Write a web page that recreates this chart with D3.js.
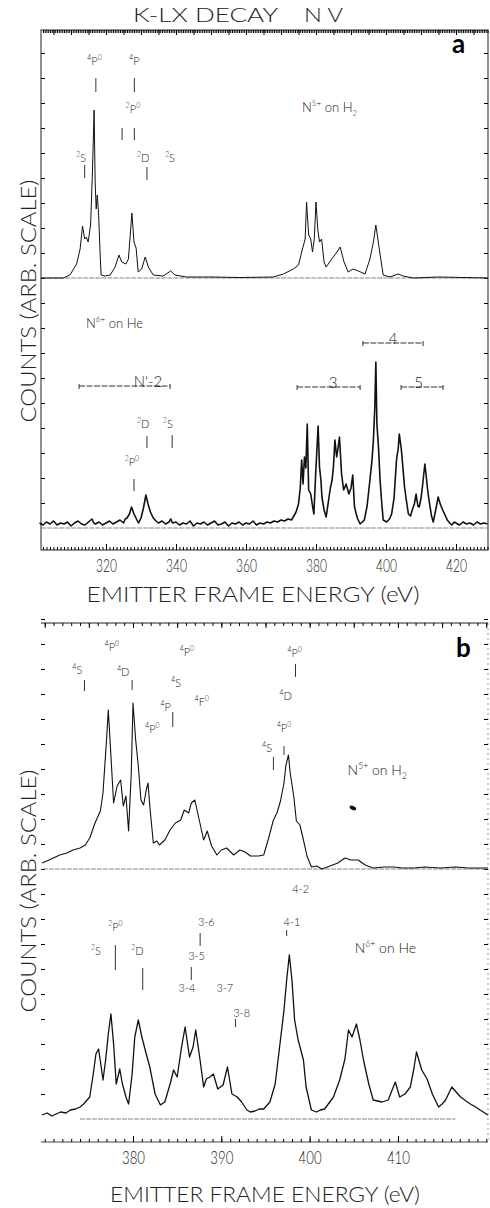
<!DOCTYPE html>
<html lang="en">
<head>
<meta charset="UTF-8">
<title>K-LX Decay N V</title>
<script src="https://d3js.org/d3.v7.min.js"></script>
<style>
  body { margin: 0; background: #fff; }
  svg { display: block; }
  text { font-family: "Lato", "DejaVu Sans", sans-serif; font-weight: 300; fill: #222; }
</style>
</head>
<body>
<script>
// ---- data (energy eV, counts arb.) ----
// panel a, upper trace: N5+ on H2
const aH2 = [[301.4,0],[305,0],[307.8,0],[309.7,3],[311.6,14],[312.6,29],[313.3,52],[313.9,39],[314.4,41],[314.9,36],
  [315.6,53],[316.1,103],[316.6,168],[316.9,96],[317.2,69],[317.5,83],[317.9,63],[318.3,26],[318.6,3],[319.7,2],
  [321.2,3],[322.6,11],[323.7,23],[324.5,16],[325.7,14],[326.4,19],[327.4,65],[328.0,36],[328.6,30],[329.2,6],
  [330.2,9],[331.2,21],[332.1,11],[333.5,3],[336.3,2],[338.5,7],[339.7,3],[343,1],[350,1],[358.3,0.5],
  [367.8,1],[370.7,4],[373.5,9],[375,13],[375.9,26],[376.9,39],[377.3,76],[377.9,43],[378.5,39],[379.0,26],
  [379.5,39],[380.0,76],[380.5,49],[381.0,36],[381.6,39],[382.3,16],[382.9,11],[384.5,19],[386.0,26],[386.9,31],
  [388.0,16],[389.2,6],[390.6,9],[392.1,7],[394.0,4],[395.4,19],[396.4,36],[397.1,53],[397.8,36],[398.5,19],
  [399.2,3],[401.1,1],[403.5,4],[404.9,2],[407.8,0],[415,1],[429.1,0]];

// panel a, lower trace: N6+ on He
const aHe = [[301,5],[302,3],[303,6],[304,4],[305,7],[306,3],[307,5],[308,4],[309,6],[310,2],[311,5],[312,7],
  [313,4],[314,3],[315,6],[316,9],[316.5,5],[317,4],[318,6],[319,3],[320,5],[321,7],[322,4],[323,6],[324,8],
  [325,5],[325.5,9],[326,10],[326.7,14],[327.3,21],[328,14],[328.7,9],[329.3,5],[330,10],[330.7,20],[331.4,33],
  [332,24],[332.7,16],[333.5,10],[334.3,7],[335,5],[336,7],[337,4],[338,6],[338.5,9],[339,5],[340,6],[341,3],
  [342,5],[343,4],[344,7],[345,2],[346,5],[347,4],[348,6],[349,3],[350,5],[351,7],[352,3],[353,4],[354,6],
  [355,2],[356,5],[357,4],[358,6],[359,3],[360,5],[361,4],[362,7],[363,3],[364,5],[365,4],[366,6],[367,5],
  [368,7],[369,6],[370,8],[371,7],[372,9],[373,8],[373.5,11],[374.3,16],[375,24],[375.5,40],[375.9,68],
  [376.3,44],[376.7,71],[377.1,60],[377.5,104],[377.9,38],[378.5,34],[379,22],[379.4,14],[379.9,54],[380.6,102],
  [381,61],[381.4,48],[381.7,31],[382.3,18],[382.9,11],[383.6,28],[384.1,40],[384.6,48],[385,62],[385.4,88],
  [385.9,71],[386.3,80],[386.7,91],[387.3,54],[387.9,38],[388.6,44],[389.4,34],[390,40],[390.5,53],[391,21],
  [391.8,10],[392.6,4],[393.8,8],[394.6,22],[395.4,48],[396,68],[396.4,88],[396.8,120],[397.1,166],[397.4,104],
  [397.9,78],[398.3,48],[398.8,24],[399.2,8],[400.2,6],[401,9],[401.6,14],[402.3,30],[403,68],[403.5,80],
  [403.8,94],[404.4,78],[405.3,41],[405.8,28],[406.4,14],[407,12],[407.5,18],[408.1,24],[408.6,34],[409.1,22],
  [409.5,21],[410,30],[410.4,41],[411.1,64],[411.5,52],[411.8,41],[412.2,30],[412.6,21],[413,12],[413.5,6],
  [414.2,18],[414.9,31],[415.5,24],[416.2,18],[417,12],[417.5,8],[418.2,5],[418.8,3],[419.5,6],[420,5],[421,3],
  [422,6],[423,4],[424,5],[425,3],[426,6],[427,4],[428,5],[429,4]];

// panel b, upper trace: N5+ on H2
const bH2 = [[369.7,6],[370.5,9],[371.7,14],[372.5,16],[373.2,19],[374,21],[374.6,24],[375.1,31],[375.7,46],
  [376.3,58],[376.6,76],[377,129],[377.2,159],[377.5,113],[377.8,66],[378.2,83],[378.6,89],[378.9,63],[379.2,73],
  [379.5,38],[379.8,96],[380,166],[380.3,129],[380.6,103],[380.9,69],[381.2,64],[381.5,79],[381.7,86],[381.9,63],
  [382.3,26],[382.7,28],[383,24],[383.6,29],[384.2,39],[384.8,46],[385.4,49],[385.8,59],[386.3,56],[386.6,66],
  [387,69],[387.5,49],[388,29],[388.4,38],[388.9,23],[389.5,14],[390,19],[390.6,21],[391.4,14],[392.1,19],
  [392.7,17],[393.3,13],[394.2,13],[394.8,14],[395.3,29],[395.9,49],[396.3,56],[396.7,68],[397.1,86],[397.3,103],
  [397.6,114],[397.8,96],[398.2,73],[398.5,48],[398.9,44],[399.3,29],[399.7,13],[400.2,2],[400.8,3],[401.4,0],
  [402.3,3],[403.2,6],[404,11],[404.7,9],[405.5,9],[406.3,4],[407.2,1],[408.5,2],[409.5,2],[410.5,1],[411.8,1],
  [413,2],[414.8,1],[416.5,2],[418,1],[420.2,1]];

// panel b, lower trace: N6+ on He
const bHe = [[369.7,4],[370.3,6],[370.8,3],[371.3,5],[371.8,7],[372.4,6],[372.9,9],[373.5,10],[374,12],[374.4,15],
  [375.1,22],[375.5,45],[375.8,65],[376.1,70],[376.4,52],[376.6,39],[376.9,59],[377.2,85],[377.5,105],[377.8,75],
  [378.1,35],[378.5,50],[378.8,35],[379.2,22],[379.5,15],[379.9,45],[380.2,82],[380.6,99],[381,82],[381.5,65],
  [381.9,52],[382.5,25],[383.1,14],[383.6,17],[384.2,35],[384.6,49],[385,42],[385.5,72],[385.9,92],[386.4,62],
  [386.8,72],[387.1,89],[387.5,65],[388,32],[388.3,40],[388.7,42],[389.1,45],[389.6,30],[390.2,34],[390.7,52],
  [391.2,25],[391.8,22],[392.3,17],[392.9,9],[393.3,7],[393.8,8],[394.3,10],[394.8,10],[395.5,17],[396.1,35],
  [396.6,72],[397.1,109],[397.4,139],[397.7,164],[398,139],[398.3,99],[398.7,79],[399.3,59],[399.6,32],[400.2,9],
  [400.8,7],[401.2,9],[401.7,10],[402.2,16],[402.7,22],[403.4,39],[404,60],[404.4,89],[404.8,82],[405.3,95],
  [405.7,79],[406.1,59],[406.7,35],[407.2,19],[407.7,18],[408.2,17],[408.9,19],[409.3,28],[409.7,37],[410.2,22],
  [410.8,25],[411.4,32],[411.8,50],[412.1,67],[412.7,49],[413.3,40],[413.9,25],[414.6,12],[415,15],[415.4,19],
  [416.1,32],[416.6,27],[417.1,22],[417.7,18],[418.2,15],[418.8,12],[419.3,9],[420.2,4]];

// tick labels
const aTickLabels = [320, 340, 360, 380, 400, 420];
const bTickLabels = [380, 390, 400, 410];

// line identifications: [label, energy, count level]
const aH2Marks = [["^4P^0",316.7,213],["^4P",328.1,213],["^2P^0",327.7,165],["^2S",312.9,116],["^2D",330.6,116],["^2S",338.3,116]];
const aH2Bars = [[317.1,200,186],[328.1,200,186],[324.6,150,138],[328.1,150,138],[313.9,113,100],[331.7,111,98]];
const aHeMarks = [["^2D",330.6,100],["^2S",337.7,100],["^2P^0",327.4,62]];
const aHeBars = [[331.7,92,80],[338.9,93,80],[328,49,37]];
// shell groups: [label, from eV, to eV, level, label eV]
const aHeShells = [["N'-2",312.3,338.3,142,332],["3",374.6,392.6,141,384.9],["4",393.4,410.6,185,402],["5",404.3,416.3,141,409.3]];
const bH2Marks = [["^4S",373.7,195],["^4P^0",377.6,218],["^4D",378.9,193],["^4P^0",386.1,213],["^4S",384.9,182],
  ["^4P",383.7,158],["^4F^0",387.8,163],["^4P^0",382.2,136],["^4P^0",398.3,212],["^4D",397.3,169],["^4P^0",397.1,137],["^4S",395.2,117]];
const bH2Bars = [[374.5,189,178],[379.9,189,179],[384.5,157,142],[398.4,205,192],[395.9,112,99],[397.1,123,114]];
const bHeMarks = [["4-2",399.0,226],["4-1",398.0,193],["3-6",388.3,193],["3-5",387.2,159],["3-4",386.1,127],
  ["3-7",390.4,127],["3-8",392.3,102],["^2P^0",378.0,188],["^2S",375.8,164],["^2D",380.5,164]];
const bHeBars = [[397.4,189,183],[387.6,186,173],[386.6,152,139],[391.6,100,92],[378.0,174,149],[381.1,151,129]];

// ---- layout ----
const W = 490, H = 1208;
const svg = d3.select("body").append("svg").attr("width", W).attr("height", H);

const frA = {l: 41, r: 488, t: 30, b: 550};
const frB = {l: 41, r: 488, t: 623, b: 1142};

const xA = d3.scaleLinear().domain([301.43, 429.14]).range([frA.l, frA.r]);
const xB = d3.scaleLinear().domain([369.58, 420.2]).range([frB.l, frB.r]);
const yA1 = d3.scaleLinear().domain([0, 250]).range([278, 28]);
const yA2 = d3.scaleLinear().domain([0, 250]).range([528, 278]);
const yB1 = d3.scaleLinear().domain([0, 250]).range([869, 619]);
const yB2 = d3.scaleLinear().domain([0, 250]).range([1119, 869]);

// text with ^sup and _sub parts
function richText(parent, str, size) {
  const t = parent.append("text").attr("font-size", size);
  let shift = 0;
  str.split(/(\^[0-9+']+|_[0-9]+)/).filter(s => s).forEach(part => {
    let target = 0, txt = part, fs = size;
    if (part[0] === "^") { target = -size * 0.45; txt = part.slice(1); fs = size * 0.62; }
    else if (part[0] === "_") { target = size * 0.28; txt = part.slice(1); fs = size * 0.62; }
    t.append("tspan").attr("font-size", fs).attr("dy", target - shift).text(txt);
    shift = target;
  });
  return t;
}

function trace(x, y, data, width) {
  const line = d3.line().x(d => x(d[0])).y(d => y(d[1]));
  svg.append("path").datum(data).attr("d", line)
    .attr("fill", "none").attr("stroke", "#111").attr("stroke-width", width)
    .attr("stroke-linejoin", "round");
}

function baseline(x, y, e0, e1) {
  svg.append("line").attr("x1", x(e0)).attr("x2", x(e1)).attr("y1", y(0)).attr("y2", y(0))
    .attr("stroke", "#666").attr("stroke-width", 0.8).attr("stroke-dasharray", "5,1");
}

function marks(x, y, labels, bars, size) {
  labels.forEach(m => {
    richText(svg, m[0], size).attr("x", x(m[1])).attr("y", y(m[2])).attr("text-anchor", "middle");
  });
  svg.selectAll(null).data(bars).enter().append("line")
    .attr("x1", d => x(d[0])).attr("x2", d => x(d[0]))
    .attr("y1", d => y(d[1])).attr("y2", d => y(d[2]))
    .attr("stroke", "#333").attr("stroke-width", 1);
}

function yTicks(y, levels, fr) {
  svg.append("g").attr("transform", `translate(${fr.l},0)`)
    .call(d3.axisLeft(y).tickValues(levels).tickSize(-4).tickFormat(""))
    .call(g => g.select(".domain").remove());
  svg.append("g").attr("transform", `translate(${fr.r},0)`)
    .call(d3.axisRight(y).tickValues(levels).tickSize(-4).tickFormat(""))
    .call(g => g.select(".domain").remove());
}

function xAxis(x, fr, labels, minor, labelWidth) {
  const lo = Math.ceil(x.domain()[0]), hi = Math.floor(x.domain()[1]);
  svg.append("g").attr("transform", `translate(0,${fr.b})`)
    .call(d3.axisBottom(x).tickValues(d3.range(lo, hi + 1, minor)).tickSize(-3).tickFormat(""))
    .call(g => g.select(".domain").remove());
  const g = svg.append("g").attr("transform", `translate(0,${fr.b})`)
    .call(d3.axisBottom(x).tickValues(labels).tickSize(-6).tickPadding(10))
    .call(g => g.select(".domain").remove());
  g.attr("font-family", null).attr("font-size", null);
  g.selectAll("text").attr("font-size", 17).attr("textLength", labelWidth)
    .attr("lengthAdjust", "spacingAndGlyphs").style("fill", "#222");
}

function topRuler(x, fr, step) {
  const lo = Math.ceil(x.domain()[0]), hi = Math.floor(x.domain()[1]);
  svg.append("g").attr("transform", `translate(0,${fr.t})`)
    .call(d3.axisTop(x).tickValues(d3.range(lo, hi + 0.01, step)).tickSize(-3).tickFormat(""))
    .call(g => g.select(".domain").remove());
  svg.append("g").attr("transform", `translate(0,${fr.t})`)
    .call(d3.axisTop(x).tickValues(d3.range(Math.ceil(lo / 5) * 5, hi + 0.01, 5)).tickSize(-5).tickFormat(""))
    .call(g => g.select(".domain").remove());
}

// ---- title ----
svg.append("text").attr("x", 133).attr("y", 22).attr("font-size", 19)
  .attr("textLength", 145).attr("lengthAdjust", "spacingAndGlyphs").text("K-LX DECAY");
svg.append("text").attr("x", 304).attr("y", 22).attr("font-size", 19)
  .attr("textLength", 39).attr("lengthAdjust", "spacingAndGlyphs").text("N V");

// ---- panel a ----
svg.append("rect").attr("x", frA.l).attr("y", frA.t).attr("width", frA.r - frA.l).attr("height", frA.b - frA.t)
  .attr("fill", "none").attr("stroke", "#222").attr("stroke-width", 1);
topRuler(xA, frA, 0.5);
xAxis(xA, frA, aTickLabels, 1, 21);
yTicks(yA1, d3.range(25, 226, 25), frA);
yTicks(yA2, d3.range(25, 251, 25), frA);

baseline(xA, yA1, 301.5, 429);
baseline(xA, yA2, 301.5, 429);
trace(xA, yA1, aH2, 1);
trace(xA, yA2, aHe, 1.6);

marks(xA, yA1, aH2Marks, aH2Bars, 11);
marks(xA, yA2, aHeMarks, aHeBars, 11);

aHeShells.forEach(s => {
  const y = yA2(s[3]);
  svg.append("line").attr("x1", xA(s[1])).attr("x2", xA(s[2])).attr("y1", y).attr("y2", y)
    .attr("stroke", "#333").attr("stroke-width", 1).attr("stroke-dasharray", "6,1.5");
  svg.append("line").attr("x1", xA(s[1])).attr("x2", xA(s[1])).attr("y1", y - 2).attr("y2", y + 3)
    .attr("stroke", "#333").attr("stroke-width", 1);
  svg.append("line").attr("x1", xA(s[2])).attr("x2", xA(s[2])).attr("y1", y - 2).attr("y2", y + 3)
    .attr("stroke", "#333").attr("stroke-width", 1);
  svg.append("text").attr("x", xA(s[4])).attr("y", y + 1).attr("text-anchor", "middle")
    .attr("font-size", 15).text(s[0]);
});

richText(svg, "N^5+ on H_2", 13).attr("x", xA(376)).attr("y", yA1(166));
richText(svg, "N^6+ on He", 13).attr("x", xA(314.3)).attr("y", yA2(200));

svg.append("text").attr("x", 452).attr("y", 53).attr("font-family", "Liberation Sans, Arial, sans-serif")
  .style("font-weight", "bold").attr("font-size", 26).style("fill", "#000").text("a");

svg.append("text").attr("transform", "translate(36,301) rotate(-90)").attr("text-anchor", "middle")
  .attr("font-size", 21).attr("textLength", 243).attr("lengthAdjust", "spacingAndGlyphs")
  .text("COUNTS (ARB. SCALE)");
svg.append("text").attr("x", 253).attr("y", 602).attr("text-anchor", "middle")
  .attr("font-size", 21).attr("textLength", 333).attr("lengthAdjust", "spacingAndGlyphs")
  .text("EMITTER FRAME ENERGY (eV)");

// ---- panel b ----
svg.append("line").attr("x1", frB.l).attr("x2", frB.r).attr("y1", frB.t).attr("y2", frB.t)
  .attr("stroke", "#222").attr("stroke-width", 1);
svg.append("line").attr("x1", frB.l).attr("x2", frB.r).attr("y1", frB.b).attr("y2", frB.b)
  .attr("stroke", "#444").attr("stroke-width", 1);
svg.append("line").attr("x1", frB.r).attr("x2", frB.r).attr("y1", frB.t).attr("y2", frB.b)
  .attr("stroke", "#999").attr("stroke-width", 1).attr("stroke-dasharray", "2,3");
topRuler(xB, frB, 1);
xAxis(xB, frB, bTickLabels, 1, 23);
yTicks(yB1, d3.range(25, 251, 25), frB);
yTicks(yB2, d3.range(25, 251, 25), frB);

baseline(xB, yB1, 369.8, 420.1);
baseline(xB, yB2, 374, 416.5);
trace(xB, yB1, bH2, 1.1);
trace(xB, yB2, bHe, 1.3);

marks(xB, yB1, bH2Marks, bH2Bars, 11);
marks(xB, yB2, bHeMarks, bHeBars, 11);

richText(svg, "N^5+ on H_2", 14).attr("x", xB(404.3)).attr("y", yB1(94));
richText(svg, "N^6+ on He", 14).attr("x", xB(405.1)).attr("y", yB2(166));
svg.append("ellipse").attr("cx", xB(404.9)).attr("cy", yB1(61)).attr("rx", 3.5).attr("ry", 2)
  .attr("transform", `rotate(25,${xB(404.9)},${yB1(61)})`).attr("fill", "#111");

svg.append("text").attr("x", 456).attr("y", 657).attr("font-family", "Liberation Sans, Arial, sans-serif")
  .style("font-weight", "bold").attr("font-size", 26).style("fill", "#000").text("b");

svg.append("text").attr("transform", "translate(36,891) rotate(-90)").attr("text-anchor", "middle")
  .attr("font-size", 21).attr("textLength", 243).attr("lengthAdjust", "spacingAndGlyphs")
  .text("COUNTS (ARB. SCALE)");
svg.append("text").attr("x", 265).attr("y", 1202).attr("text-anchor", "middle")
  .attr("font-size", 21).attr("textLength", 310).attr("lengthAdjust", "spacingAndGlyphs")
  .text("EMITTER FRAME ENERGY (eV)");
</script>
</body>
</html>
